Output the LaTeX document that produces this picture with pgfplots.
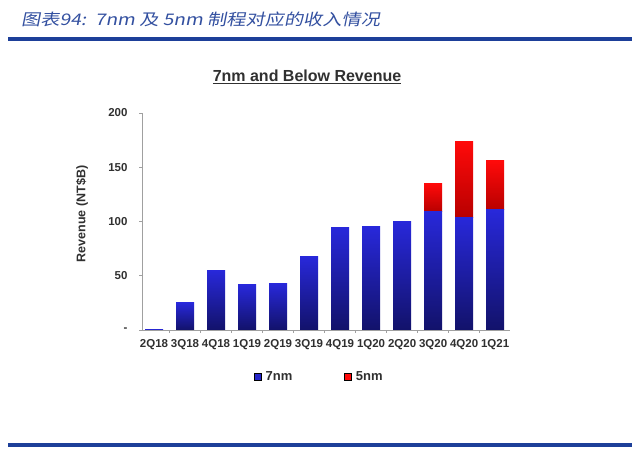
\documentclass[border=0pt]{standalone}
\usepackage{pgfplots}
\pgfplotsset{compat=1.18}
\usepackage{pgfplotstable}
\usepackage{fontspec}
\setmainfont{Liberation Sans}
\newfontfamily\cjk[FakeSlant=0.2,FakeStretch=1.2]{Noto Sans CJK SC}
\definecolor{bluetop}{HTML}{2828DA}
\definecolor{bluebot}{HTML}{12126A}
\definecolor{redtop}{HTML}{FF0A0A}
\definecolor{redbot}{HTML}{B80000}
\definecolor{hdr}{HTML}{1D3F99}
\definecolor{hdrtext}{HTML}{3350A0}
\definecolor{axgray}{HTML}{A0A0A0}
\definecolor{lbl}{HTML}{303030}
\pgfplotstableread{
x lbl seven five
0 2Q18 1 0
1 3Q18 25 0
2 4Q18 55 0
3 1Q19 41.5 0
4 2Q19 43 0
5 3Q19 68 0
6 4Q19 94.5 0
7 1Q20 95 0
8 2Q20 100 0
9 3Q20 109 26
10 4Q20 104 70
11 1Q21 111 45
}\revtable
\begin{document}
\begin{tikzpicture}
\path (0pt,0pt) rectangle (640pt,449pt);
\draw[hdr, line width=3.5pt] (8pt,410pt) -- (632pt,410pt);
\draw[hdr, line width=3.5pt] (8pt,4pt) -- (632pt,4pt);
\node[anchor=west, inner sep=0pt, text=hdrtext, font=\cjk\fontsize{16}{18}\selectfont] at (21pt,430pt) {图表94:\ \ 7nm 及 5nm 制程对应的收入情况};
\node[anchor=base, inner sep=0pt, text=lbl, font=\bfseries\fontsize{16}{18}\selectfont] at (307pt,367pt) {\underline{7nm and Below Revenue}};
\begin{axis}[
  at={(142pt,119pt)}, anchor=south west,
  scale only axis, width=368pt, height=217pt,
  xmin=-0.387, xmax=11.48, ymin=0, ymax=200,
  ybar stacked, bar width=18pt, stacked ignores zero,
  axis x line*=bottom, axis y line*=left,
  axis line style={axgray, line width=0.8pt, -},
  tick style={axgray, line width=0.8pt},
  tick align=outside,
  xtick={0,...,11},
  xticklabels={2Q18,3Q18,4Q18,1Q19,2Q19,3Q19,4Q19,1Q20,2Q20,3Q20,4Q20,1Q21},
  major x tick style={draw=none},
  minor x tick num=1,
  minor tick length=3pt,
  major tick length=3pt,
  ytick={0,50,100,150,200},
  yticklabels={-,50,100,150,200},
  ticklabel style={font=\bfseries\fontsize{11.5}{13}\selectfont, text=lbl},
  yticklabel style={xshift=-8pt},
  xticklabel style={yshift=-3pt},
  ylabel={Revenue (NT\$B)},
  every axis y label/.style={at={(axis description cs:-0.163,0.535)}, rotate=90, anchor=center, font=\bfseries\fontsize{12.5}{14}\selectfont, text=lbl},
  legend columns=2,
  legend style={draw=none, fill=none, at={(axis description cs:0.304,-0.217)}, anchor=west, font=\bfseries\fontsize{13}{15}\selectfont, text=lbl, inner sep=0pt, /tikz/every even column/.append style={column sep=50pt}},
  legend image code/.code={\fill[#1] (0pt,-3.5pt) rectangle (7pt,3.5pt);},
]
\addlegendimage{fill=bluetop!85!bluebot}
\addlegendentry{\,7nm}
\addlegendimage{fill=redtop}
\addlegendentry{\,5nm}
\pgfplotsinvokeforeach{0,...,11}{
  \addplot[draw=none, top color=bluetop, bottom color=bluebot, forget plot]
    table[x=x, y expr={ifthenelse(\thisrow{x}==#1,\thisrow{seven},0)}] {\revtable};
}
\pgfplotsinvokeforeach{9,10,11}{
  \addplot[draw=none, top color=redtop, bottom color=redbot, forget plot]
    table[x=x, y expr={ifthenelse(\thisrow{x}==#1,\thisrow{five},0)}] {\revtable};
}
\end{axis}
\end{tikzpicture}
\end{document}
